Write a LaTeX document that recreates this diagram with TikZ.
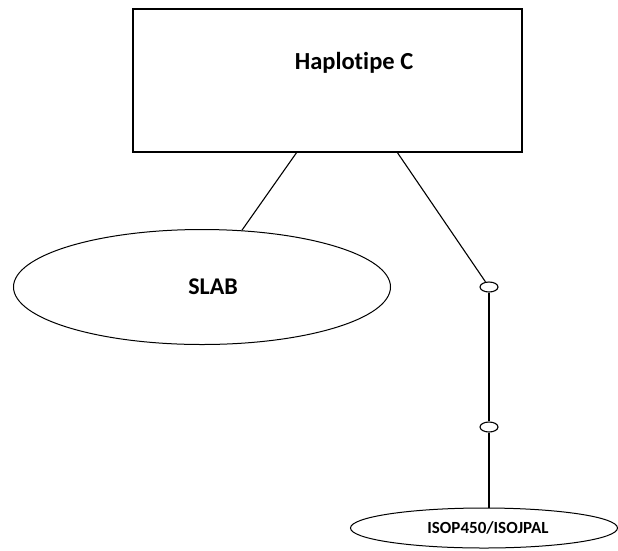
\documentclass[tikz,border=0pt]{standalone}
\usepackage{fontspec}
\setmainfont{Carlito}[Ligatures=NoCommon]
\usetikzlibrary{shapes.geometric}
\tikzset{
  entity/.style={draw, line width=1.2pt, inner sep=0pt},
  attrib/.style={draw, ellipse, line width=1pt, inner sep=0pt, font=\bfseries},
  joint/.style={draw, ellipse, line width=1.1pt, minimum width=18pt, minimum height=10pt, inner sep=0pt},
  link/.style={line width=1.1pt}
}
\begin{document}
\begin{tikzpicture}[x=1pt, y=-1pt]
    \useasboundingbox (0,0) rectangle (618,550);
    % Entity box
    \node[entity, minimum width=389pt, minimum height=143pt] (haplo) at (327.5,80.5) {};
    \node[font=\bfseries\fontsize{24.5}{28}\selectfont] (haplotxt) at (354,63) {Haplotipe C};
    % Attributes
    \node[attrib, minimum width=377pt, minimum height=115pt, font=\bfseries\fontsize{24}{28}\selectfont] (slab) at (202,287) {\hspace{22pt}SLAB};
    \node[attrib, minimum width=267pt, minimum height=40pt, font=\bfseries\fontsize{17}{20}\selectfont] (isop) at (484,528) {\hspace{8pt}ISOP450/ISOJPAL};
    % Connectors
    \node[joint] (j1) at (489,287) {};
    \node[joint] (j2) at (489,427) {};
    \coordinate (h1) at (297,152);
    \coordinate (h2) at (397,152);
    \draw[link] (h1) -- (slab);
    \draw[link] (h2) -- (j1);
    \draw[link] (j1) -- (j2);
    \draw[link] (j2) -- (j2 |- isop.north);
\end{tikzpicture}
\end{document}
